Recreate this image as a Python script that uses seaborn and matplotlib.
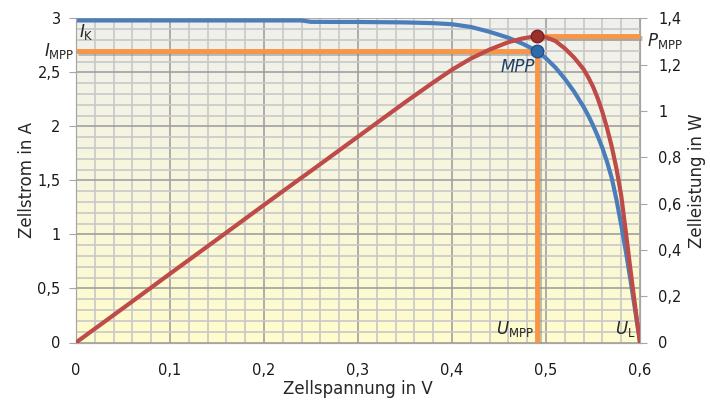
import numpy as np
import pandas as pd
import seaborn as sns
import matplotlib.pyplot as plt
import matplotlib.patheffects as pe
from matplotlib.ticker import MultipleLocator, FuncFormatter

# Kennlinie einer Solarzelle
spannung = [0, 0.05, 0.1, 0.15, 0.2, 0.24, 0.25, 0.3, 0.35, 0.38, 0.4, 0.42, 0.44,
            0.46, 0.475, 0.49, 0.5, 0.51, 0.52, 0.53, 0.54, 0.545, 0.55, 0.555, 0.56, 0.565,
            0.57, 0.575, 0.58, 0.585, 0.59, 0.595, 0.6]
strom = [2.98, 2.98, 2.98, 2.98, 2.98, 2.98, 2.967, 2.966, 2.962, 2.955, 2.945, 2.92, 2.875,
         2.82, 2.765, 2.70, 2.63, 2.545, 2.44, 2.32, 2.18, 2.10, 2.01, 1.91, 1.80, 1.67,
         1.52, 1.32, 1.09, 0.84, 0.57, 0.29, 0.0]
leistung = [0, 0.148, 0.297, 0.445, 0.594, 0.712, 0.741, 0.889, 1.037, 1.123, 1.178, 1.226, 1.265,
            1.297, 1.313, 1.323, 1.318, 1.302, 1.27, 1.23, 1.18, 1.145, 1.105, 1.055, 0.995, 0.925,
            0.845, 0.75, 0.635, 0.475, 0.31, 0.15, 0.0]

u_mpp = 0.49
i_mpp = 2.70
p_mpp = 1.325

df = pd.DataFrame({"U": spannung, "I": strom, "P": leistung})

sns.set_style("white")
plt.rcParams['font.family'] = ['DejaVu Sans']
plt.rcParams['mathtext.fontset'] = 'dejavusans'

blau = '#4a7ebb'
rot = '#be4b48'
orange = '#f79646'
grau = '#a6a6a6'

fig = plt.figure(figsize=(7.1, 4.01), dpi=100)
ax = fig.add_axes([76 / 710, 1 - 342.5 / 401, 564 / 710, 324.2 / 401])

# Hintergrund mit Verlauf
verlauf = np.linspace(0, 1, 256).reshape(-1, 1)
oben = np.array([0.94, 0.94, 0.93])
unten = np.array([1.0, 0.99, 0.80])
bild = oben + (unten - oben) * verlauf[..., None]
ax.imshow(bild, extent=[0, 0.6, 0, 3], aspect='auto', origin='upper', zorder=0)

ax.set_xlim(0, 0.6)
ax.set_ylim(0, 3)
ax.xaxis.set_major_locator(MultipleLocator(0.1))
ax.xaxis.set_minor_locator(MultipleLocator(0.02))
ax.yaxis.set_major_locator(MultipleLocator(0.5))
ax.yaxis.set_minor_locator(MultipleLocator(0.1))
ax.grid(which='minor', color='#c8c8c8', lw=1.2, zorder=1)
ax.grid(which='major', color='#a0a0a0', lw=1.2, zorder=1)
ax.set_axisbelow(True)

komma = FuncFormatter(lambda v, p: ('%g' % round(v, 2)).replace('.', ','))
ax.xaxis.set_major_formatter(komma)
ax.yaxis.set_major_formatter(komma)

# Hilfslinien MPP
schatten = [pe.SimpleLineShadow(offset=(1.5, -1.5), shadow_color='gray', alpha=0.5), pe.Normal()]
ax.plot([0, u_mpp], [i_mpp, i_mpp], color=orange, lw=3.5, zorder=3, path_effects=schatten,
        solid_capstyle='butt')
ax.plot([u_mpp, u_mpp], [0, i_mpp], color=orange, lw=3.5, zorder=3, path_effects=schatten,
        solid_capstyle='butt')

sns.lineplot(data=df, x="U", y="I", ax=ax, color=blau, lw=3, zorder=4, sort=False)

ax2 = ax.twinx()
ax2.set_ylim(0, 1.4)
ax2.yaxis.set_major_locator(MultipleLocator(0.2))
ax2.yaxis.set_major_formatter(komma)
ax2.plot([u_mpp, 0.6], [p_mpp, p_mpp], color=orange, lw=3.5, zorder=3, path_effects=schatten,
         solid_capstyle='butt', clip_on=False)
sns.lineplot(data=df, x="U", y="P", ax=ax2, color=rot, lw=3, zorder=4, sort=False)
ax2.plot([u_mpp], [p_mpp], 'o', ms=9, color='#9b2f2c', mec='#7a2020', mew=1, zorder=6)
ax2.plot([u_mpp], [i_mpp * 1.4 / 3], 'o', ms=9, color='#2f6aad', mec='#23508a', mew=1, zorder=6)

for a in (ax, ax2):
    for s in a.spines.values():
        s.set_color(grau)
    a.tick_params(axis='both', which='major', length=5, color=grau, labelsize=10.5,
                  labelcolor='#1a1a1a', direction='out')
    a.tick_params(which='minor', length=0)
ax2.spines['top'].set_visible(False)
ax.spines['top'].set_visible(False)
ax.tick_params(axis='y', pad=6)
ax.tick_params(axis='x', pad=10)
ax2.tick_params(axis='y', pad=8)

ax.set_xlabel('Zellspannung in V', fontsize=12, labelpad=1)
ax.set_ylabel('Zellstrom in A', fontsize=12, labelpad=1)
ax2.set_ylabel('Zelleistung in W', fontsize=12, labelpad=5)

# Beschriftungen
ax.text(0.003, 2.78, r'$I_{\mathrm{K}}$', fontsize=12, ha='left', va='bottom', zorder=7)
ax.text(-0.002, i_mpp, r'$I_{\mathrm{MPP}}$', fontsize=12, ha='right', va='center', zorder=7)
ax.text(0.607, p_mpp * 3 / 1.4 - 0.05, r'$P_{\mathrm{MPP}}$', fontsize=12, ha='left',
        va='center', zorder=7)
ax.text(u_mpp - 0.002, 2.63, 'MPP', fontsize=12, style='italic', color='#1f3f66',
        ha='right', va='top', zorder=7)
ax.text(u_mpp - 0.003, 0.03, r'$U_{\mathrm{MPP}}$', fontsize=12, ha='right', va='bottom',
        zorder=7)
ax.text(0.595, 0.03, r'$U_{\mathrm{L}}$', fontsize=12, ha='right', va='bottom', zorder=7)

fig.savefig('out.png', dpi=100)
